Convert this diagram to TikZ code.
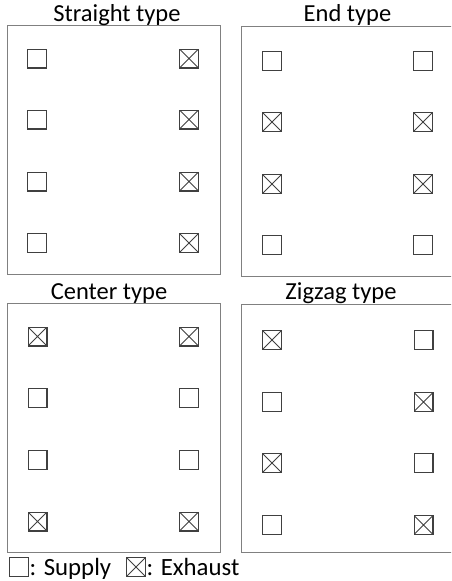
\documentclass[tikz,border=0pt]{standalone}
\usepackage{fontspec}
\setmainfont{Carlito}
\definecolor{boxgray}{RGB}{128,128,128}
\definecolor{sqgray}{RGB}{64,64,64}
\begin{document}
\begin{tikzpicture}[x=1pt,y=-1pt,
  panel/.style={draw=boxgray, line width=1pt},
  sup/.style={rectangle, draw=sqgray, line width=1.2pt, minimum size=18.8pt, inner sep=0pt},
  exh/.style={sup, path picture={\draw[sqgray, line width=0.9pt]
     (path picture bounding box.north west) -- (path picture bounding box.south east)
     (path picture bounding box.north east) -- (path picture bounding box.south west);}},
  title/.style={anchor=base, inner sep=0pt, font=\fontsize{24.5}{29}\selectfont},
  legend/.style={anchor=base west, inner sep=0pt, font=\fontsize{24.8}{29}\selectfont}]
\clip (0,0) rectangle (451,581);

% panels
\draw[panel] (7,25.5) rectangle (220,274);
\draw[panel] (241,26) rectangle (454,276);
\draw[panel] (7,303) rectangle (220,552);
\draw[panel] (241,304) rectangle (454,552);

% titles
\node[title] (t1) at (117,21) {Straight type};
\node[title] (t2) at (347.5,21) {End type};
\node[title] (t3) at (109,299.5) {Center type};
\node[title] (t4) at (341,299.5) {Zigzag type};

% Straight type
\foreach \y/\l/\r [count=\i] in {58.5/sup/exh,119.5/sup/exh,181.5/sup/exh,243/sup/exh}{
  \node[\l] (sL\i) at (37,\y) {};
  \node[\r] (sR\i) at (189,\y) {};
}
% End type
\foreach \y/\l/\r [count=\i] in {61/sup/sup,122/exh/exh,184/exh/exh,245/sup/sup}{
  \node[\l] (eL\i) at (272,\y) {};
  \node[\r] (eR\i) at (423,\y) {};
}
% Center type
\foreach \y/\l/\r [count=\i] in {336.5/exh/exh,398/sup/sup,460/sup/sup,521.5/exh/exh}{
  \node[\l] (cL\i) at (37.5,\y) {};
  \node[\r] (cR\i) at (189,\y) {};
}
% Zigzag type
\foreach \y/\l/\r [count=\i] in {340/exh/sup,402/sup/exh,463/exh/sup,525/sup/exh}{
  \node[\l] (zL\i) at (272,\y) {};
  \node[\r] (zR\i) at (423.5,\y) {};
}

% legend
\node[sup] (legS) at (19,567) {};
\node[legend] (legSt) at (29.5,575) {: Supply};
\node[exh] (legE) at (136,567) {};
\node[legend] (legEt) at (146.5,575) {: Exhaust};
\end{tikzpicture}
\end{document}
